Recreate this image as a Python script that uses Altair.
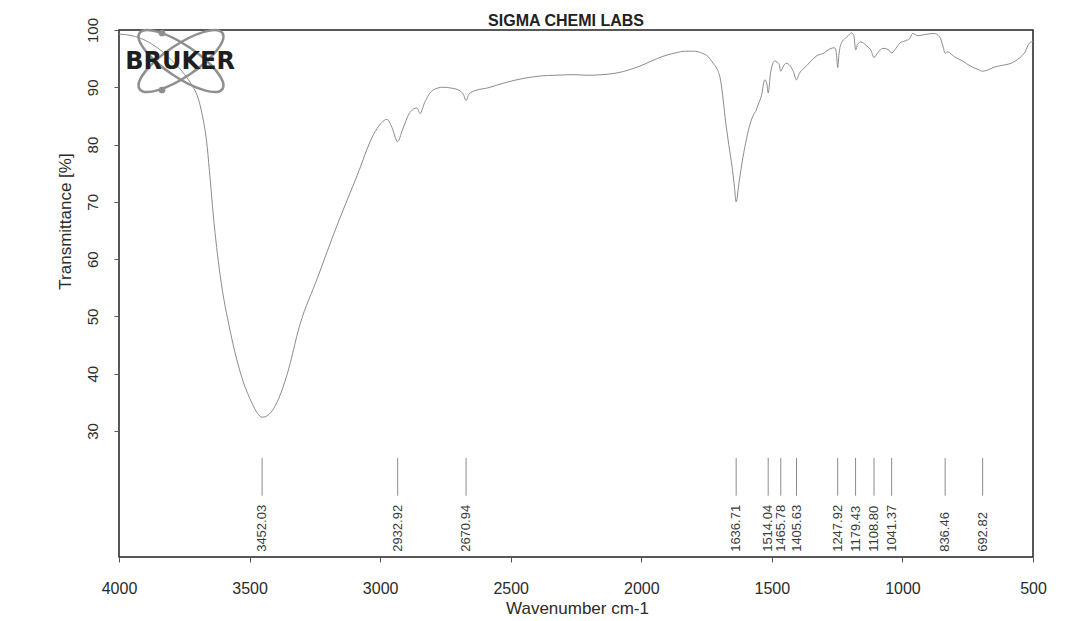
import altair as alt
import pandas as pd

# IR transmittance spectrum (wavenumber in cm-1, transmittance in %)
wavenumber = [
    4000, 3950, 3900, 3850, 3800, 3750, 3720, 3700, 3685, 3662,
    3651, 3639, 3613, 3574, 3525, 3490, 3470, 3452, 3435, 3414, 3390,
    3356, 3307, 3241, 3165, 3088, 3027, 2995, 2974, 2955, 2933,
    2915, 2886, 2859, 2847, 2830, 2798, 2760, 2733, 2694, 2680,
    2671, 2660, 2637, 2587, 2522, 2445, 2380, 2330, 2260, 2204,
    2150, 2093, 2050, 2005, 1960, 1917, 1870, 1830, 1800, 1764,
    1745, 1725, 1710, 1698, 1688, 1679, 1665, 1652, 1643, 1637,
    1625, 1611, 1597, 1584, 1570, 1560, 1553, 1540, 1527, 1520,
    1514, 1505, 1489, 1480, 1472, 1466, 1458, 1445, 1431, 1418,
    1406, 1395, 1380, 1366, 1350, 1328, 1300, 1278, 1259, 1252,
    1248, 1243, 1235, 1212, 1195, 1186, 1179, 1172, 1160, 1136,
    1120, 1109, 1095, 1075, 1055, 1041, 1025, 1010, 990, 972,
    961, 940, 915, 880, 857, 845, 836, 828, 800, 770,
    740, 710, 693, 675, 650, 620, 579, 552, 530, 514,
    500,
]
transmittance = [
    99.3, 99.0, 98.2, 96.8, 94.8, 92.3, 90.3, 88.5, 86.0, 79.5,
    74.0, 67.7, 57.3, 47.4, 38.7, 34.8, 33.1, 32.4, 32.6, 33.5, 35.5,
    39.9, 48.6, 56.6, 65.9, 74.6, 81.6, 83.8, 84.4, 83.0, 80.5,
    82.5, 85.6, 86.4, 85.4, 87.3, 89.5, 90.0, 89.9, 89.4, 88.6,
    87.7, 88.8, 89.4, 89.9, 90.8, 91.6, 92.0, 92.1, 92.2, 92.1,
    92.2, 92.5, 93.0, 93.7, 94.6, 95.4, 96.0, 96.3, 96.3, 95.9,
    95.4, 94.2, 93.2, 91.6, 88.5, 84.7, 80.0, 76.0, 72.5, 70.0,
    73.6, 77.7, 81.0, 83.5, 85.2, 86.0, 86.9, 88.5, 91.3, 90.8,
    89.0, 92.5, 94.6, 94.4, 94.0, 92.8, 93.5, 94.2, 93.8, 92.8,
    91.3, 92.4, 93.2, 93.8, 94.6, 95.5, 96.0, 96.7, 96.9, 95.5,
    93.4, 95.8, 97.6, 98.8, 99.5, 99.0, 96.5, 97.5, 97.9, 97.2,
    96.4, 95.2, 96.0, 96.8, 96.6, 96.0, 96.8, 97.7, 98.1, 98.5,
    99.4, 99.0, 99.2, 99.4, 98.8, 97.2, 95.9, 96.2, 95.3, 94.6,
    93.7, 93.1, 92.8, 93.0, 93.5, 93.8, 94.3, 95.1, 96.2, 97.7,
    98.0,
]

# Picked peak positions
peak_positions = [3452.03, 2932.92, 2670.94, 1636.71, 1514.04, 1465.78,
                  1405.63, 1247.92, 1179.43, 1108.80, 1041.37, 836.46, 692.82]

x_ticks = [4000, 3500, 3000, 2500, 2000, 1500, 1000, 500]
y_ticks = [30, 40, 50, 60, 70, 80, 90, 100]

spectrum = pd.DataFrame({"wn": wavenumber, "T": transmittance})
peaks = pd.DataFrame({"wn": peak_positions})
single = pd.DataFrame({"k": [0]})

FONT = "Liberation Sans"
INK = "#2b2b2b"
CURVE = "#8c8c8c"

x_scale = alt.Scale(domain=[4000, 500], nice=False, zero=False)
y_scale = alt.Scale(domain=[8, 100], nice=False, zero=False)

x_axis = alt.Axis(
    values=x_ticks, format="d", grid=False, domain=False,
    tickSize=5, tickColor="#555", labelPadding=18,
    labelFont=FONT, labelFontSize=16, labelColor=INK,
    labelFlush=False, labelOverlap=False,
    title="Wavenumber cm-1", titleFont=FONT, titleFontSize=17,
    titleFontWeight="normal", titleColor=INK,
    titleX=458, titleY=43, titleAlign="center", titleBaseline="top",
)
y_axis = alt.Axis(
    values=y_ticks, format="d", grid=False, domain=False,
    tickSize=5, tickColor="#555", labelPadding=14,
    labelFont=FONT, labelFontSize=15, labelColor=INK,
    labelAngle=270, labelAlign="center", labelBaseline="bottom",
    labelOverlap=False, labelFlush=False,
    title="Transmittance [%]", titleFont=FONT, titleFontSize=17,
    titleFontWeight="normal", titleColor=INK,
    titleAngle=270, titleX=-45, titleY=191,
    titleAlign="center", titleBaseline="bottom",
)

line = alt.Chart(spectrum).mark_line(
    color=CURVE, strokeWidth=1, interpolate="monotone"
).encode(
    x=alt.X("wn:Q", scale=x_scale, axis=x_axis),
    y=alt.Y("T:Q", scale=y_scale, axis=y_axis),
)

peak_ticks = alt.Chart(peaks).mark_rule(color="#8c8c8c", strokeWidth=1).encode(
    x=alt.X("wn:Q", scale=x_scale),
    y=alt.datum(25.3),
    y2=alt.datum(18.7),
)

peak_labels = alt.Chart(peaks).mark_text(
    angle=270, align="left", baseline="middle",
    font=FONT, fontSize=13, color="#3a3a3a",
).encode(
    x=alt.X("wn:Q", scale=x_scale),
    y=alt.datum(8.9),
    text=alt.Text("wn:Q", format=".2f"),
)

# Lab name printed just above the frame
heading = alt.Chart(single).mark_text(
    text="SIGMA CHEMI LABS", font=FONT, fontSize=16, fontWeight="bold",
    color="#222", align="center", baseline="bottom",
).encode(x=alt.value(447), y=alt.value(-1))

# Bruker logo: two crossed orbits, two electrons and the word mark
ELLIPSE = ("M 1 0 C 1 0.177 0.552 0.32 0 0.32 C -0.552 0.32 -1 0.177 -1 0 "
           "C -1 -0.177 -0.552 -0.32 0 -0.32 C 0.552 -0.32 1 -0.177 1 0 Z")
orbits = alt.Chart(pd.DataFrame({"a": [34, 146]})).mark_point(
    shape=ELLIPSE, size=10000, filled=False, stroke="#8f8f8f",
    strokeWidth=2.5, opacity=1,
).encode(
    x=alt.value(62), y=alt.value(31),
    angle=alt.Angle("a:Q", scale=None),
)
electron_top = alt.Chart(single).mark_circle(size=45, color="#8f8f8f", opacity=1).encode(
    x=alt.value(43), y=alt.value(3)
)
electron_bottom = alt.Chart(single).mark_circle(size=45, color="#8f8f8f", opacity=1).encode(
    x=alt.value(43), y=alt.value(60)
)
brand = alt.Chart(single).mark_text(
    text="BRUKER", font="DejaVu Sans", fontWeight="bold", fontSize=24,
    color="#1e1e1e", align="center", baseline="middle",
).encode(x=alt.value(61), y=alt.value(32))

chart = alt.layer(
    line, peak_ticks, peak_labels, heading, orbits, electron_top,
    electron_bottom, brand
).properties(
    width=914,
    height=527,
    background="white",
    autosize=alt.AutoSizeParams(type="none"),
    padding={"left": 119, "top": 30, "right": 44, "bottom": 64},
).configure_view(
    stroke="#222", strokeWidth=1.5
)

chart.save("out.html", embed_options={"renderer": "svg", "actions": False})
